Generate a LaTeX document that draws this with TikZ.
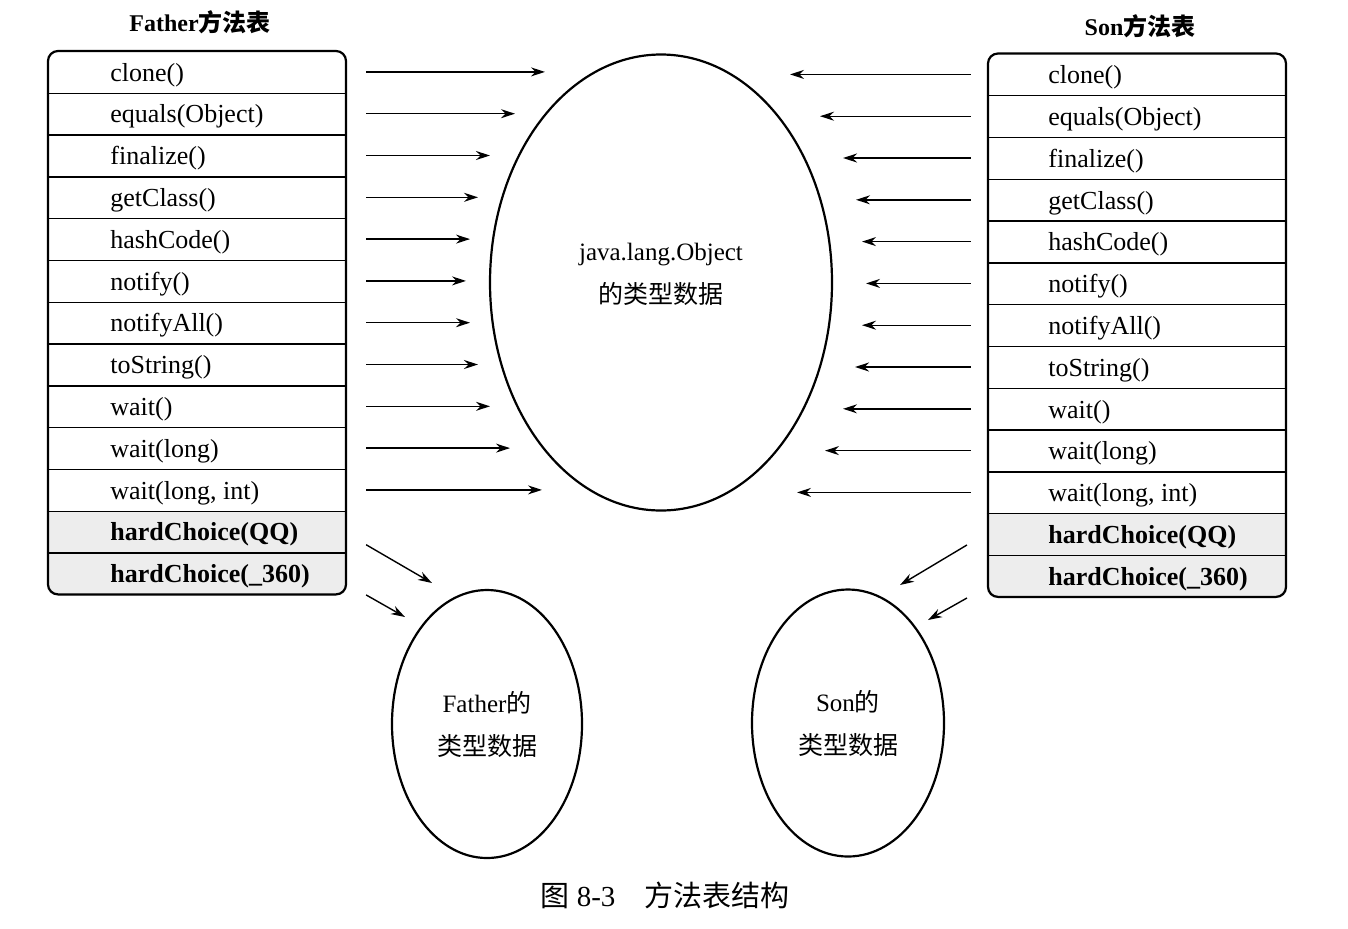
\documentclass[tikz,border=0pt]{standalone}
\usepackage{fontspec}
\setmainfont{Liberation Serif}
\newfontfamily\cjk{Noto Sans CJK SC}
\usetikzlibrary{arrows.meta,shapes.geometric,backgrounds}

\tikzset{
  tab/.style={draw, line width=1.1pt, rounded corners=5pt, minimum width=149pt, minimum height=271.7pt, inner sep=0pt},
  meth/.style={anchor=west, inner sep=0pt, minimum height=20.9pt, text height=9.2pt, text depth=0pt, font=\fontsize{13}{15}\selectfont},
  sep/.style={line width=0.7pt},
  hard/.style={fill=gray!14},
  arr/.style={-{Stealth[length=7pt,width=4.5pt]}, line width=0.7pt},
  blob/.style={draw, ellipse, line width=1.1pt, inner sep=0pt},
  blobtext/.style={align=center, inner sep=0pt, font=\fontsize{12.5}{21.5}\selectfont},
  ttl/.style={font=\fontsize{12}{14}\selectfont\bfseries},
}

\begin{document}
\begin{tikzpicture}[x=0.5pt,y=-0.5pt]
\useasboundingbox (0,0) rectangle (1348,928);

% method tables
\node[tab] (ftab) at (197,322.7) {};
\node[tab] (stab) at (1137,325.2) {};
\node[ttl] (ftitle) at (200,22) {Father{\cjk 方法表}};
\node[ttl] (stitle) at (1140,26) {Son{\cjk 方法表}};

\foreach \m [count=\i] in {clone(), equals(Object), finalize(), getClass(), hashCode(), notify(), notifyAll(), toString(), wait(), wait(long), {wait(long, int)}, hardChoice(QQ), hardChoice(\_360)} {
  \node[meth] (f\i) at (110,{51+41.8*(\i-0.5)}) {\ifnum\i>11 \bfseries\fi\m};
  \node[meth] (s\i) at (1048,{53.5+41.8*(\i-0.5)}) {\ifnum\i>11 \bfseries\fi\m};
}

\foreach \i in {1,...,12} {
  \draw[sep] (ftab.west |- f\i.south) -- (ftab.east |- f\i.south);
  \draw[sep] (stab.west |- s\i.south) -- (stab.east |- s\i.south);
}

% shaded rows
\begin{scope}[on background layer]
  \begin{scope}
    \clip[rounded corners=5pt] (ftab.south west) rectangle (ftab.north east);
    \fill[hard] (ftab.west |- f11.south) rectangle (ftab.south east);
  \end{scope}
  \begin{scope}
    \clip[rounded corners=5pt] (stab.south west) rectangle (stab.north east);
    \fill[hard] (stab.west |- s11.south) rectangle (stab.south east);
  \end{scope}
\end{scope}

% type data
\node[blob, minimum width=171pt, minimum height=228pt] (obj) at (661,282.5) {};
\node[blobtext] (objtext) at (661,274) {java.lang.Object\\{\cjk 的类型数据}};
\node[blob, minimum width=95pt, minimum height=134pt] (fobj) at (487,724) {};
\node[blobtext] (fobjtext) at (fobj) {Father{\cjk 的}\\{\cjk 类型数据}};
\node[blob, minimum width=96pt, minimum height=133.5pt] (sobj) at (848,723) {};
\node[blobtext] (sobjtext) at (sobj) {Son{\cjk 的}\\{\cjk 类型数据}};

% arrows
\foreach \i/\xe in {1/545,2/515,3/490,4/478,5/470,6/466,7/470,8/478,9/490,10/510,11/542} {
  \coordinate (fo\i) at (\xe,{51+41.8*(\i-0.5)});
  \draw[arr] ([xshift=9.5pt]ftab.east |- f\i.west) -- (fo\i);
}
\foreach \i/\xe in {1/790,2/820,3/843,4/856,5/862,6/866,7/862,8/855,9/843,10/825,11/797} {
  \coordinate (so\i) at (\xe,{53.5+41.8*(\i-0.5)});
  \draw[arr] ([xshift=-8pt]stab.west |- s\i.west) -- (so\i);
}

\coordinate (fd1) at (432,583);
\coordinate (fd2) at (405,617);
\draw[arr] ([xshift=9.5pt,yshift=-6.5pt]ftab.east |- f12.west) -- (fd1);
\draw[arr] ([xshift=9.5pt,yshift=-10.7pt]ftab.east |- f13.west) -- (fd2);
\coordinate (sd1) at (900,585);
\coordinate (sd2) at (928,620);
\draw[arr] ([xshift=-10pt,yshift=-5.4pt]stab.west |- s12.west) -- (sd1);
\draw[arr] ([xshift=-10pt,yshift=-11pt]stab.west |- s13.west) -- (sd2);

\node[font=\fontsize{14.5}{16}\selectfont] (cap) at (665,895) {{\cjk 图} 8-3\hspace{1em}{\cjk 方法表结构}};

\end{tikzpicture}
\end{document}
